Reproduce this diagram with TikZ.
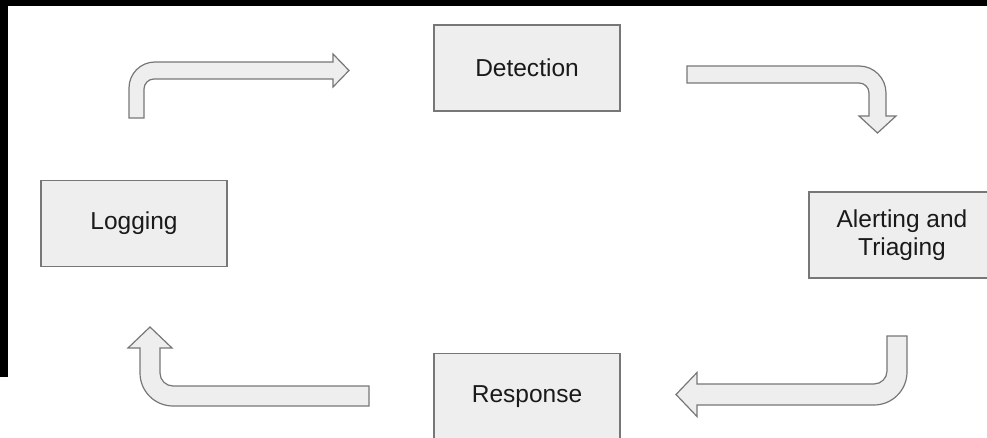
\documentclass[tikz,border=0pt]{standalone}
\usepackage{fontspec}
\setmainfont{Liberation Sans}
\definecolor{boxfill}{HTML}{EEEEEE}
\definecolor{boxline}{HTML}{777777}
\definecolor{txt}{HTML}{1A1A1A}
\begin{document}
\begin{tikzpicture}[x=1pt,y=-1pt,
  stage/.style={draw=boxline,fill=boxfill,line width=1.2pt,
    minimum width=186pt,minimum height=86pt,inner sep=0pt,
    text=txt,align=center,font=\fontsize{24.5}{28}\selectfont},
  blockarrow/.style={draw=boxline,fill=boxfill,line width=1.2pt,line join=miter}]
\clip (0,0) rectangle (987,438);
\fill[white] (0,0) rectangle (987,438);
% dark frame strips along the top and left
\fill[black] (0,0) rectangle (987,6);
\fill[black] (0,0) rectangle (8,377);

% stages of the cycle
\node[stage] (det)   at (527,68)    {Detection};
\node[stage] (alert) at (902,235)   {Alerting and\\Triaging};
\node[stage] (resp)  at (527,396.5) {Response};
\node[stage] (logn)  at (134,223.5) {Logging};

% Logging -> Detection
\draw[blockarrow] (129,118) -- (129,88)
  .. controls (129,73.6) and (140.6,62) .. (155,62)
  -- (333,62) -- (333,54) -- (349,70.5) -- (333,87) -- (333,79) -- (154,79)
  .. controls (148.5,79) and (144,83.5) .. (144,89)
  -- (144,118) -- cycle;

% Detection -> Alerting and Triaging
\draw[blockarrow] (687,66) -- (859,66)
  .. controls (873.9,66) and (886,78.1) .. (886,93)
  -- (886,116) -- (896,116) -- (877.5,133) -- (859,116) -- (869,116) -- (869,93)
  .. controls (869,87.5) and (864.5,83) .. (859,83)
  -- (687,83) -- cycle;

% Alerting and Triaging -> Response
\draw[blockarrow] (887,336) -- (907,336) -- (907,372)
  .. controls (907,390.2) and (892.2,405) .. (874,405)
  -- (697,405) -- (697,416.5) -- (676,394.5) -- (697,372.5) -- (697,384) -- (874,384)
  .. controls (881.2,384) and (887,378.2) .. (887,371)
  -- cycle;

% Response -> Logging
\draw[blockarrow] (369,386) -- (173,386)
  .. controls (165.8,386) and (160,380.2) .. (160,373)
  -- (160,348) -- (172,348) -- (150,327) -- (128,348) -- (140,348) -- (140,373)
  .. controls (140,391.2) and (154.8,406) .. (173,406)
  -- (369,406) -- cycle;
\end{tikzpicture}
\end{document}
